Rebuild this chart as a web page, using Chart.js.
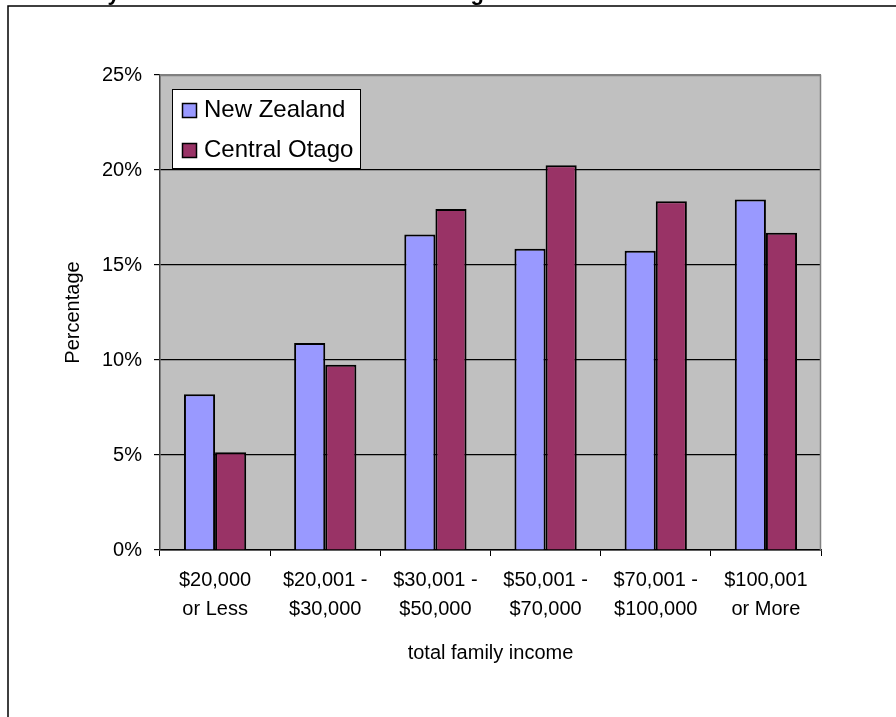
<!DOCTYPE html>
<html>
<head>
<meta charset="utf-8">
<script src="https://cdn.jsdelivr.net/npm/chart.js@4"></script>
<style>
  html, body { margin: 0; padding: 0; background: #fff; }
  canvas { display: block; }
</style>
</head>
<body>
<canvas id="income-bars" width="896" height="717"></canvas>
<script>
const titleText = 'Family Income Distribution - Central Otago 2006'
const categories = [
  ['$20,000', 'or Less'],
  ['$20,001 -', '$30,000'],
  ['$30,001 -', '$50,000'],
  ['$50,001 -', '$70,000'],
  ['$70,001 -', '$100,000'],
  ['$100,001', 'or More']
]
const newZealand = [8.2, 10.9, 16.6, 15.85, 15.75, 18.45]
const centralOtago = [5.15, 9.75, 17.95, 20.25, 18.35, 16.7]
const yTicks = [0, 5, 10, 15, 20, 25]

const FONT = "'Liberation Sans', Arial, sans-serif"

// white page, outer frame (cut off at right/bottom) and clipped title
const framePlugin = {
  id: 'frame',
  beforeDraw(chart) {
    const ctx = chart.ctx
    const a = chart.chartArea
    ctx.save()
    ctx.fillStyle = '#fff'
    ctx.fillRect(0, 0, chart.width, chart.height)
    ctx.strokeStyle = '#000'
    ctx.lineWidth = 1.5
    ctx.strokeRect(8, 6, chart.width + 20, chart.height + 20)
    ctx.font = 'bold 22px ' + FONT
    ctx.fillStyle = '#000'
    ctx.textBaseline = 'alphabetic'
    ctx.fillText(titleText, 50, 0)
    // plot background
    ctx.fillStyle = '#c0c0c0'
    ctx.fillRect(a.left, a.top, a.right - a.left, a.bottom - a.top)
    ctx.restore()
  },
  beforeDatasetsDraw(chart) {
    const ctx = chart.ctx
    const a = chart.chartArea
    ctx.save()
    ctx.strokeStyle = '#808080'
    ctx.lineWidth = 1.5
    ctx.beginPath()
    ctx.moveTo(a.left, a.top + 0.5)
    ctx.lineTo(a.right - 0.5, a.top + 0.5)
    ctx.lineTo(a.right - 0.5, a.bottom)
    ctx.stroke()
    ctx.restore()
  }
}

// legend box sitting inside the plot area, like the original
const boxLegend = {
  id: 'boxLegend',
  afterDraw(chart) {
    const ctx = chart.ctx
    const a = chart.chartArea
    const x = a.left + 12, y = a.top + 14
    ctx.save()
    ctx.fillStyle = '#fff'
    ctx.fillRect(x, y, 189, 80)
    ctx.strokeStyle = '#000'
    ctx.lineWidth = 1
    ctx.strokeRect(x + 0.5, y + 0.5, 188, 79)
    ctx.font = '24px ' + FONT
    ctx.textBaseline = 'middle'
    chart.data.datasets.forEach((ds, i) => {
      const sy = y + 14 + i * 40
      ctx.fillStyle = ds.backgroundColor
      ctx.fillRect(x + 10, sy, 15, 15)
      ctx.strokeStyle = '#000'
      ctx.lineWidth = 1.5
      ctx.strokeRect(x + 10.5, sy + 0.5, 14, 14)
      ctx.fillStyle = '#000'
      ctx.fillText(ds.label, x + 32, sy + 7.5)
    })
    ctx.restore()
  }
}

new Chart(document.getElementById('income-bars'), {
  type: 'bar',
  data: {
    labels: categories,
    datasets: [{
      label: 'New Zealand',
      data: newZealand,
      backgroundColor: '#9999ff',
      borderColor: '#000',
      borderWidth: 2,
      barPercentage: 1,
      categoryPercentage: 0.565
    }, {
      label: 'Central Otago',
      data: centralOtago,
      backgroundColor: '#993366',
      borderColor: '#000',
      borderWidth: 2,
      barPercentage: 1,
      categoryPercentage: 0.565
    }]
  },
  options: {
    responsive: false,
    animation: false,
    devicePixelRatio: 1,
    layout: { padding: { top: 75, right: 75, left: 0, bottom: 0 } },
    plugins: {
      legend: { display: false },
      title: { display: false },
      tooltip: { enabled: false }
    },
    scales: {
      x: {
        afterFit: (scale) => { scale.height = 167 },
        grid: {
          offset: true,
          drawOnChartArea: false,
          drawTicks: true,
          tickLength: 6,
          tickColor: '#000'
        },
        border: { color: '#000', width: 1.5 },
        ticks: {
          color: '#000',
          padding: 10,
          maxRotation: 0,
          autoSkip: false,
          font: { family: FONT, size: 20, lineHeight: 1.45 }
        },
        title: {
          display: true,
          text: 'total family income',
          color: '#000',
          font: { family: FONT, size: 20, lineHeight: 1.2 },
          padding: { top: 0, bottom: 52 }
        }
      },
      y: {
        min: 0,
        max: 25,
        afterFit: (scale) => { scale.width = 160 },
        afterBuildTicks: (scale) => { scale.ticks = yTicks.map(v => ({ value: v })) },
        grid: {
          color: (c) => c.tick && c.tick.value === 25 ? '#808080' : '#000',
          lineWidth: 1.2,
          drawTicks: true,
          tickLength: 6,
          tickColor: '#000'
        },
        border: { color: '#404040', width: 1.5 },
        ticks: {
          color: '#000',
          padding: 12,
          callback: (v) => v + '%',
          font: { family: FONT, size: 20 }
        },
        title: {
          display: true,
          text: 'Percentage',
          color: '#000',
          font: { family: FONT, size: 20, lineHeight: 1.2 },
          padding: { top: 61, bottom: 0 }
        }
      }
    }
  },
  plugins: [framePlugin, boxLegend]
})
</script>
</body>
</html>
